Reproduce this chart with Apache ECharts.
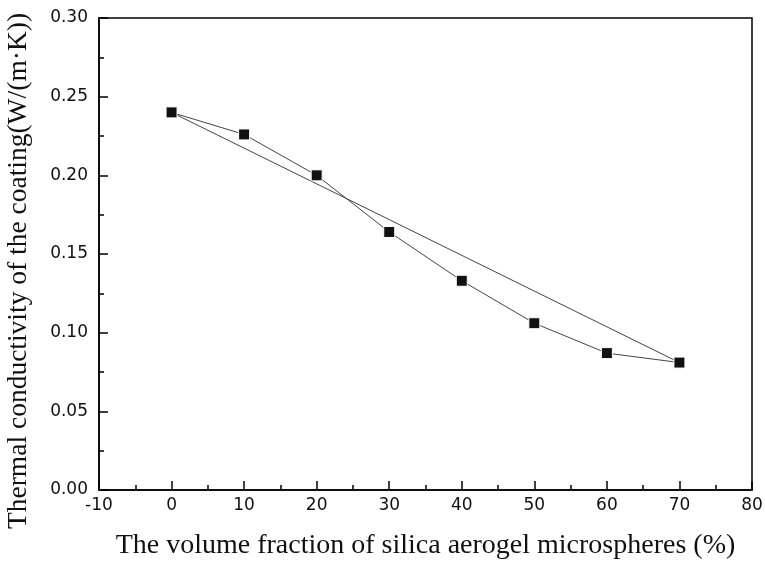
<!DOCTYPE html>
<html><head><meta charset="utf-8">
<script src="https://cdn.jsdelivr.net/npm/echarts@6/dist/echarts.min.js"></script>
<style>html,body{margin:0;padding:0;background:#fff}#c{width:765px;height:561px}</style>
</head><body><div id="c"></div>
<script>
const xValues = [0, 10, 20, 30, 40, 50, 60, 70];
const conductivity = [0.240, 0.226, 0.200, 0.164, 0.133, 0.106, 0.087, 0.081];
const linearEnds = [[0, 0.240], [70, 0.081]];
const xTitle = 'The volume fraction of silica aerogel microspheres (%)';
const yTitle = 'Thermal conductivity of the coating(W/(m\u00b7K))';

const chart = echarts.init(document.getElementById('c'), null, {renderer: 'canvas'});
const axisCommon = {
  axisLine: {show: true, onZero: false, lineStyle: {color: '#000', width: 1.5}},
  axisTick: {show: true, inside: true, length: 9, lineStyle: {color: '#000', width: 1.5}},
  minorTick: {show: true, splitNumber: 2, length: 5, lineStyle: {color: '#000', width: 1.5}},
  splitLine: {show: false},
  axisLabel: {color: '#111', fontFamily: 'DejaVu Sans', fontSize: 17},
  nameTextStyle: {color: '#111', fontFamily: 'Liberation Serif', fontSize: 28}
};
chart.setOption({
  animation: false,
  backgroundColor: '#fff',
  grid: {left: 99, right: 13, top: 18, bottom: 71, outerBoundsMode: 'none', containLabel: false,
         show: true, borderColor: '#000', borderWidth: 1.5},
  xAxis: Object.assign({}, axisCommon, {
    type: 'value', min: -10, max: 80, interval: 10,
    name: xTitle, nameLocation: 'middle', nameGap: 42,
    axisLabel: Object.assign({}, axisCommon.axisLabel, {margin: 7})
  }),
  yAxis: Object.assign({}, axisCommon, {
    type: 'value', min: 0, max: 0.30, interval: 0.05,
    name: yTitle, nameLocation: 'middle', nameGap: 66,
    nameTextStyle: Object.assign({}, axisCommon.nameTextStyle, {fontSize: 27.5, padding: [0, 34, 0, 0]}),
    axisLabel: Object.assign({}, axisCommon.axisLabel, {margin: 11, formatter: v => v.toFixed(2)})
  }),
  series: [
    {
      type: 'line', data: linearEnds, symbol: 'none',
      lineStyle: {color: '#444', width: 1}, z: 2
    },
    {
      type: 'line', data: xValues.map((x, i) => [x, conductivity[i]]),
      symbol: 'rect', symbolSize: 11,
      itemStyle: {color: '#111', borderColor: '#fff', borderWidth: 1},
      lineStyle: {color: '#444', width: 1}, z: 3
    }
  ]
});
</script></body></html>
